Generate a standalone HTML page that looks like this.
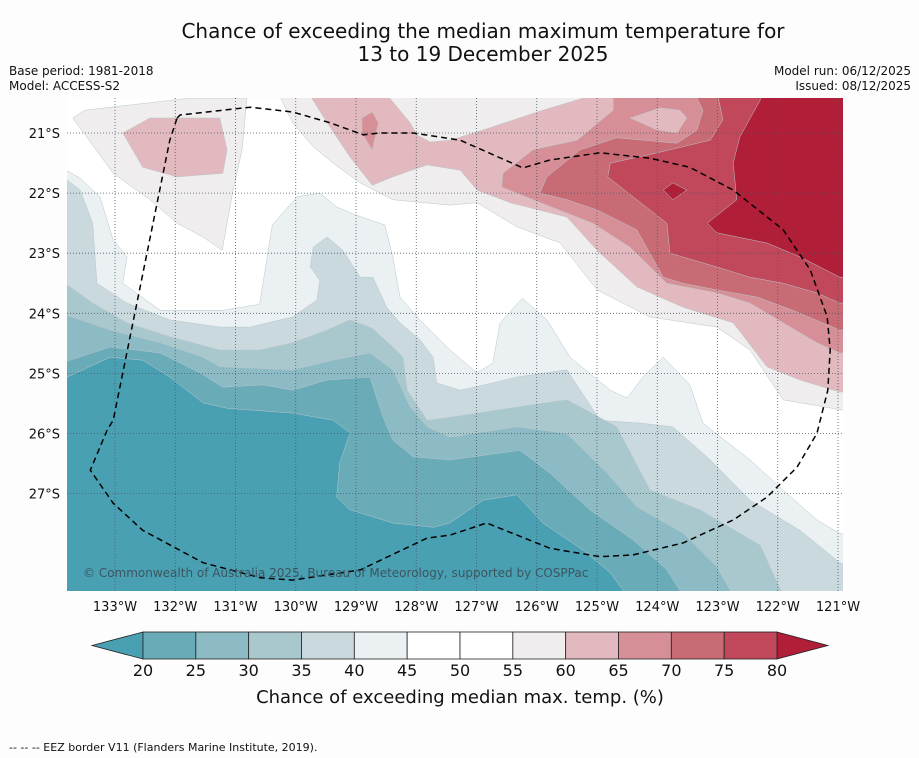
<!DOCTYPE html>
<html><head><meta charset="utf-8"><style>
body{margin:0;background:#fdfdfd;font-family:"DejaVu Sans","Liberation Sans",sans-serif;}
#wrap{position:relative;width:919px;height:758px;overflow:hidden;background:#fdfdfd;}
</style></head><body>
<div id="wrap">
<svg id="svg" width="919" height="758" xmlns="http://www.w3.org/2000/svg" font-family="DejaVu Sans, Liberation Sans, sans-serif">
<text x="483" y="38" text-anchor="middle" font-size="20" fill="#111">Chance of exceeding the median maximum temperature for</text>
<text x="483" y="61" text-anchor="middle" font-size="20" fill="#111">13 to 19 December 2025</text>
<text x="9" y="75" font-size="12" fill="#111">Base period: 1981-2018</text>
<text x="9" y="90" font-size="12" fill="#111">Model: ACCESS-S2</text>
<text x="911" y="75" font-size="12" text-anchor="end" fill="#111">Model run: 06/12/2025</text>
<text x="911" y="90" font-size="12" text-anchor="end" fill="#111">Issued: 08/12/2025</text>
<defs><clipPath id="mapclip"><rect x="67" y="98" width="776" height="493"/></clipPath></defs>
<g id="map" clip-path="url(#mapclip)"><rect x="67" y="98" width="776" height="493" fill="#ffffff"/></g>
<g id="grid"></g>
<g id="eez" clip-path="url(#mapclip)"></g>
<text x="83" y="577" font-size="12" fill="#3d5560">© Commonwealth of Australia 2025, Bureau of Meteorology, supported by COSPPac</text>
<g id="axes"></g>
<g id="cbar"></g>
<text x="460" y="703" text-anchor="middle" font-size="18" fill="#111">Chance of exceeding median max. temp. (%)</text>
<text x="9" y="751" font-size="11" fill="#111">--  --  -- EEZ border V11 (Flanders Marine Institute, 2019).</text>
</svg>
</div>
<script>
const lonTicks=[133,132,131,130,129,128,127,126,125,124,123,122,121];
const latTicks=[21,22,23,24,25,26,27];
const levels=[20,25,30,35,40,45,50,55,60,65,70,75,80];
const levelColors=["#6aabb8","#8cbac5","#a9c8ce","#c9d9de","#ebf0f2","#ffffff","#ffffff","#efeded","#e2b9be","#d68f97","#c96b75","#c0485a"];
const underColor="#48a0b2", overColor="#b01e38";
const regionLevels=["40","35","30","25","20","<20","55a","60a","55b","60b","55c","65a","60c","65b","70","75","80","80b"];
const regionColors=["#ebf0f2","#c9d9de","#a9c8ce","#8cbac5","#6aabb8","#48a0b2","#efeded","#e2b9be","#efeded","#e2b9be","#efeded","#d68f97","#e2b9be","#d68f97","#c96b75","#c0485a","#b01e38","#b01e38"];
const regions=[
[[133.9,21.57],[133.58,21.75],[133.25,22.06],[133.03,22.78],[132.8,23.06],[132.87,23.5],[132.25,23.95],[131.2,23.95],[130.6,23.85],[130.39,22.53],[129.98,22.06],[129.6,22.0],[129.32,22.23],[129.02,22.36],[128.52,22.53],[128.39,23.06],[128.27,23.73],[127.94,24.11],[127.44,24.61],[126.99,24.99],[126.73,24.83],[126.61,24.16],[126.24,23.75],[125.83,24.11],[125.45,24.73],[124.78,25.28],[124.5,25.41],[124.24,25.06],[123.9,24.73],[123.46,25.19],[123.24,25.83],[122.46,26.44],[121.91,26.94],[121.35,27.44],[120.97,27.66],[120.8,27.7],[120.8,28.7],[133.9,28.7]],
[[133.9,21.7],[133.58,21.95],[133.37,22.5],[133.3,23.5],[132.8,23.83],[132.09,24.11],[131.26,24.23],[130.76,24.23],[130.05,24.06],[129.65,23.78],[129.6,23.45],[129.76,23.23],[129.71,22.9],[129.48,22.73],[129.22,22.95],[128.93,23.4],[128.72,23.4],[128.49,23.9],[128.27,24.16],[127.94,24.44],[127.72,24.73],[127.66,25.16],[127.27,25.28],[126.73,25.16],[126.33,25.06],[125.5,24.94],[124.95,25.78],[124.24,25.83],[123.74,25.89],[123.12,26.44],[122.46,27.11],[121.63,27.61],[120.97,28.15],[120.8,28.2],[120.8,28.7],[133.9,28.7]],
[[133.9,23.45],[133.37,23.83],[132.8,24.16],[132.09,24.39],[131.26,24.61],[130.59,24.61],[130.05,24.49],[129.48,24.28],[129.1,24.11],[128.73,24.25],[128.39,24.56],[128.22,24.73],[128.15,25.28],[127.82,25.78],[127.44,25.73],[126.33,25.56],[125.5,25.44],[124.67,25.89],[124.12,26.94],[123.29,27.27],[122.29,27.86],[121.91,28.7],[133.9,28.7]],
[[133.9,24.0],[133.08,24.28],[132.25,24.49],[131.54,24.73],[131.26,24.89],[130.05,24.94],[129.38,24.78],[128.77,24.66],[128.39,24.94],[128.1,25.56],[127.82,25.89],[127.44,26.06],[126.33,25.89],[125.5,26.0],[124.83,26.66],[124.34,27.22],[123.57,27.66],[123.01,28.22],[122.74,28.7],[133.9,28.7]],
[[133.9,24.83],[133.08,24.56],[132.25,24.66],[131.59,24.99],[131.21,25.23],[130.54,25.19],[130.05,25.28],[129.48,25.11],[128.77,25.06],[128.55,25.73],[128.39,26.11],[128.05,26.39],[127.44,26.44],[126.28,26.28],[125.78,26.66],[125.12,27.27],[124.4,27.77],[123.84,28.27],[123.57,28.7],[133.9,28.7]],
[[133.9,25.11],[133.08,24.73],[132.54,24.78],[132.09,25.06],[131.54,25.49],[131.14,25.58],[130.05,25.66],[129.38,25.78],[129.1,25.99],[129.27,26.49],[129.32,27.06],[129.1,27.27],[128.39,27.49],[127.72,27.56],[127.44,27.49],[126.89,27.11],[126.33,27.02],[125.9,27.49],[125.23,27.94],[124.78,28.32],[124.5,28.7],[133.9,28.7]],
[[133.7,20.75],[133.5,20.62],[131.76,20.42],[130.81,20.42],[130.89,21.28],[131.04,21.95],[131.22,22.95],[131.54,22.73],[131.97,22.5],[132.42,22.11],[133.03,21.67]],
[[132.87,21.0],[132.42,20.75],[131.26,20.75],[131.14,21.28],[131.21,21.67],[131.97,21.73],[132.54,21.57]],
[[130.31,20.3],[130.05,20.83],[129.71,21.23],[129.38,21.5],[128.93,21.83],[128.39,22.11],[127.44,22.2],[126.99,22.16],[126.33,22.56],[125.61,22.83],[125.0,23.61],[124.12,24.06],[123.01,24.23],[122.46,24.61],[121.91,25.44],[120.92,25.61],[120.8,25.61],[120.8,20.3]],
[[129.81,20.3],[129.48,20.83],[129.1,21.4],[128.73,21.87],[128.39,21.73],[127.82,21.53],[127.27,21.62],[126.99,21.95],[126.44,22.16],[125.5,22.4],[125.0,22.95],[124.34,23.56],[123.57,23.9],[122.74,24.16],[122.18,24.89],[121.63,25.11],[120.97,25.31],[120.8,25.31],[120.8,20.3]],
[[128.44,20.3],[128.44,20.42],[128.1,20.83],[127.99,21.03],[127.77,21.15],[127.44,21.12],[126.89,20.95],[125.9,20.62],[125.23,20.42],[125.23,20.3]],
[[124.73,20.3],[124.73,20.62],[125.33,21.12],[126.06,21.28],[126.56,21.67],[126.58,21.9],[126.06,22.11],[125.07,22.5],[124.45,22.9],[123.84,23.5],[123.01,23.66],[122.46,23.83],[121.91,24.16],[121.35,24.49],[120.97,24.66],[120.8,24.66],[120.8,20.3]],
[[124.45,20.75],[123.95,20.58],[123.62,20.62],[123.51,20.75],[123.67,21.0],[124.0,20.95]],
[[128.9,20.75],[128.73,20.65],[128.63,20.83],[128.73,21.28],[128.9,21.0]],
[[123.34,20.3],[123.34,20.42],[123.24,20.62],[123.34,20.95],[123.67,21.17],[124.67,21.08],[125.28,21.28],[125.83,21.73],[125.95,22.0],[125.5,22.11],[125.0,22.28],[124.34,22.61],[123.9,23.4],[123.57,23.5],[123.01,23.61],[122.34,23.73],[121.75,23.95],[120.97,24.28],[120.8,24.28],[120.8,20.3]],
[[123.01,20.3],[122.91,20.78],[123.12,21.12],[124.0,21.33],[124.78,21.5],[124.82,21.73],[124.34,22.11],[123.84,22.5],[123.79,23.0],[123.01,23.23],[122.46,23.4],[121.91,23.5],[121.35,23.66],[120.97,23.83],[120.8,23.83],[120.8,20.3]],
[[122.29,20.3],[122.29,20.45],[122.63,21.07],[122.74,21.5],[122.68,22.11],[123.17,22.5],[123.01,22.66],[122.18,22.83],[121.63,23.06],[120.97,23.4],[120.8,23.4],[120.8,20.3]],
[[123.9,21.95],[123.74,21.83],[123.51,21.95],[123.74,22.11]]
];
const eezLine=[[131.97,20.75],[131.92,20.7],[130.76,20.57],[130.05,20.65],[129.43,20.83],[128.88,21.03],[128.6,21.0],[128.05,21.0],[127.27,21.12],[126.23,21.58],[125.78,21.45],[124.95,21.33],[124.12,21.42],[123.46,21.57],[122.74,21.95],[121.91,22.61],[121.46,23.28],[121.18,24.06],[121.13,24.61],[121.17,25.28],[121.35,26.0],[121.68,26.56],[122.18,27.06],[122.74,27.44],[123.57,27.82],[124.4,28.02],[124.95,28.05],[125.78,27.91],[126.83,27.49],[127.44,27.69],[127.82,27.74],[128.93,28.27],[130.05,28.44],[130.59,28.4],[131.54,28.15],[132.54,27.61],[133.03,27.16],[133.41,26.61],[133.13,25.94],[133.03,25.78],[132.09,21.12],[131.97,20.75]];

const NS="http://www.w3.org/2000/svg";
function xLon(lon){return 115+(133-lon)*60.25;}
function yLat(lat){return 133+(lat-21)*60.1;}
function mk(tag,attrs,parent){const e=document.createElementNS(NS,tag);for(const k in attrs)e.setAttribute(k,attrs[k]);parent.appendChild(e);return e;}
const map=document.getElementById('map');
regions.forEach((r,i)=>{
  const p=mk('polygon',{points:r.map(q=>xLon(q[0]).toFixed(1)+','+yLat(q[1]).toFixed(1)).join(' '),fill:regionColors[i],stroke:regionColors[i]==="#ffffff"?"none":"#b9c6cb","stroke-width":"0.5"},map);
  
  
});
const grid=document.getElementById('grid');
lonTicks.forEach(l=>{
  const ln=mk('line',{x1:xLon(l),x2:xLon(l),y1:98,y2:591,stroke:"#4a5a66","stroke-width":"0.8","stroke-dasharray":"1,2"},grid);
  
  
});
latTicks.forEach(l=>{
  const ln=mk('line',{x1:67,x2:843,y1:yLat(l),y2:yLat(l),stroke:"#4a5a66","stroke-width":"0.8","stroke-dasharray":"1,2"},grid);
  
  
});
const eez=document.getElementById('eez');
const pl=mk('polyline',{points:eezLine.map(q=>xLon(q[0]).toFixed(1)+','+yLat(q[1]).toFixed(1)).join(' '),fill:"none",stroke:"#000","stroke-width":"1.5","stroke-dasharray":"6,4"},eez);


const axes=document.getElementById('axes');
lonTicks.forEach(l=>{
  const t=mk('text',{x:xLon(l),y:611,"text-anchor":"middle","font-size":"13",fill:"#111"},axes);
  t.textContent=l+'°W';
  
  
});
latTicks.forEach(l=>{
  const t=mk('text',{x:60,y:yLat(l)+5,"text-anchor":"end","font-size":"13",fill:"#111"},axes);
  t.textContent=l+'°S';
  
  
});
const cb=document.getElementById('cbar');
const cx0=143,cx1=777,cy0=632,cy1=659;
function xLev(v){return cx0+(v-levels[0])/(levels[levels.length-1]-levels[0])*(cx1-cx0);}
const tl=mk('polygon',{points:`92,${(cy0+cy1)/2} ${cx0},${cy0} ${cx0},${cy1}`,fill:underColor,stroke:"#222","stroke-width":"0.8"},cb);


const tr=mk('polygon',{points:`828,${(cy0+cy1)/2} ${cx1},${cy0} ${cx1},${cy1}`,fill:overColor,stroke:"#222","stroke-width":"0.8"},cb);


levelColors.forEach((c,i)=>{
  const r=mk('rect',{x:xLev(levels[i]),y:cy0,width:xLev(levels[i+1])-xLev(levels[i]),height:cy1-cy0,fill:c,stroke:"#222","stroke-width":"0.8"},cb);
  
  
});
levels.forEach(v=>{
  const t=mk('text',{x:xLev(v),y:676,"text-anchor":"middle","font-size":"16",fill:"#111"},cb);
  t.textContent=v;
  
  
});
</script>
</body></html>
